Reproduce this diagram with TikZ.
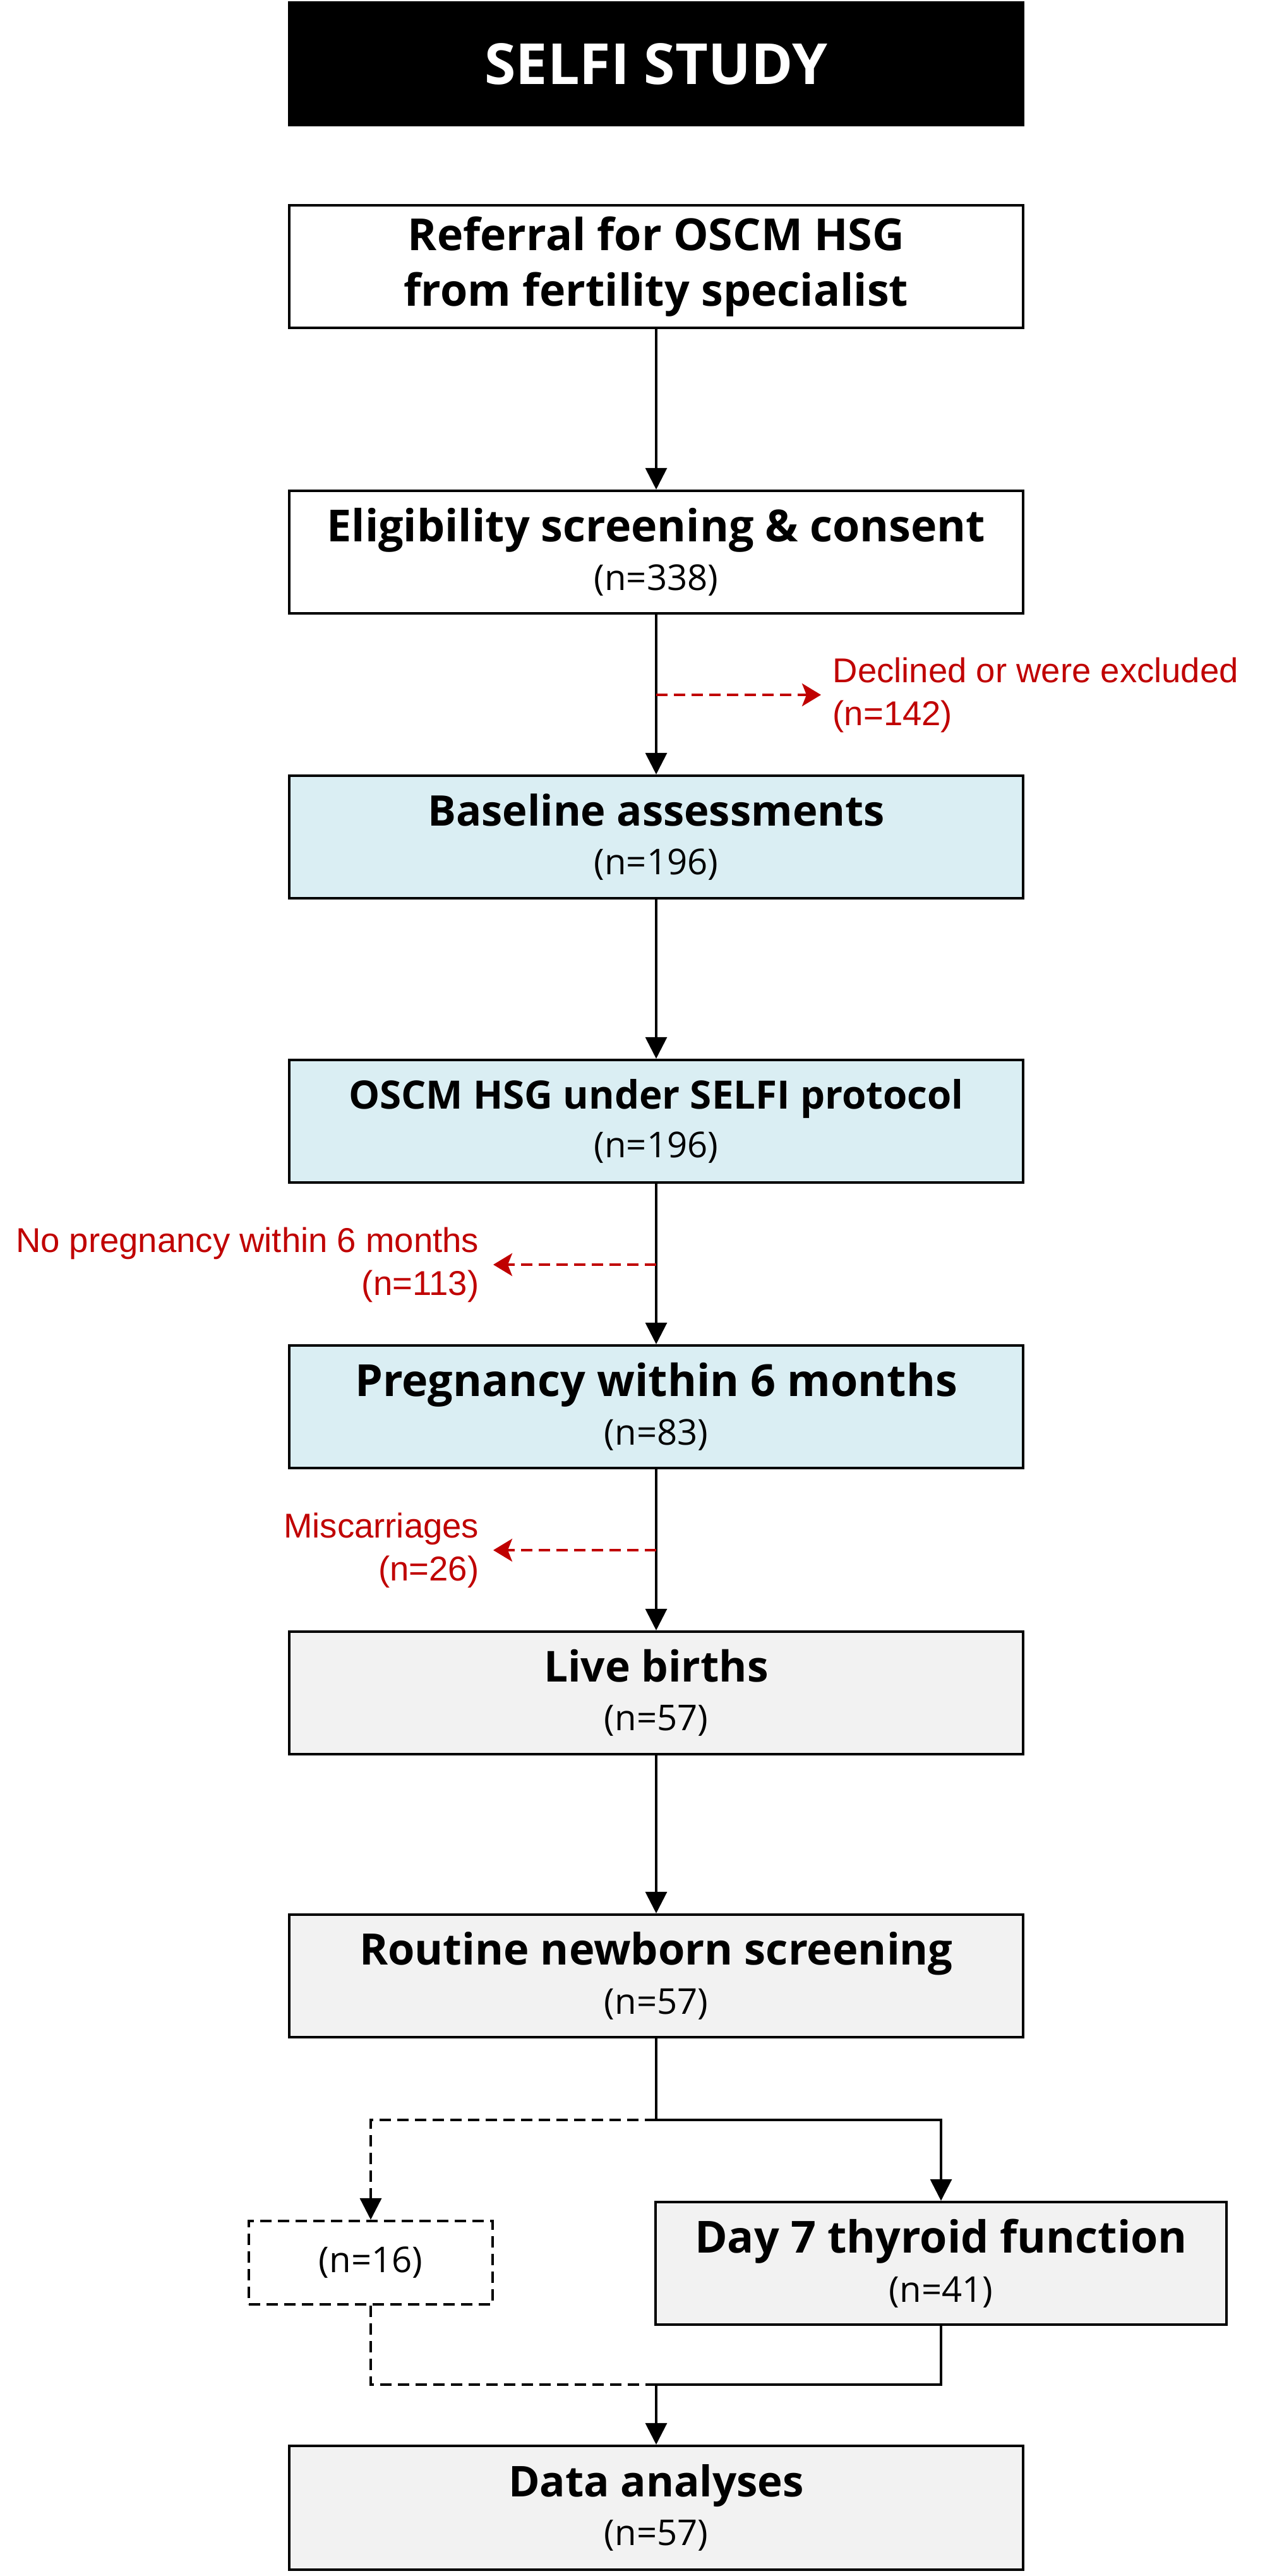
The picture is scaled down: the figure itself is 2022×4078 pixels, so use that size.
\documentclass[tikz,border=0pt]{standalone}
\usepackage{fontspec}
\setmainfont{Open Sans}
\newfontfamily\notefont{Liberation Sans}
\usetikzlibrary{arrows.meta}

\definecolor{boxblue}{HTML}{DAEEF3}
\definecolor{boxgrey}{HTML}{F2F2F2}
\definecolor{notered}{HTML}{C00000}
\newcommand{\hd}[2][19.9pt]{{\fontsize{#1}{22pt}\selectfont\bfseries #2}}

\begin{document}
\begin{tikzpicture}[x=0.01cm,y=-0.01cm,line join=miter]
\tikzset{
    stage/.style={draw=black, line width=1.15pt, minimum width=11.62cm, minimum height=1.94cm,
        align=center, inner sep=0pt, font=\fontsize{16pt}{22pt}\selectfont},
    flow/.style={line width=0.9pt},
    flowarrow/.style={flow, -{Triangle[length=0.34cm,width=0.34cm]}},
    skipline/.style={dash pattern=on 0.18cm off 0.1cm},
    note/.style={text=notered, inner sep=0pt, font=\notefont\fontsize{15.5pt}{19.4pt}\selectfont},
    lossarrow/.style={draw=notered, line width=1.1pt, skipline,
        -{Stealth[length=0.3cm,width=0.36cm,inset=0.07cm]}},
}
\useasboundingbox (0,0) rectangle (2022,4078);

% main column
\node[stage, fill=black, text=white, font=\fontsize{25.5pt}{30pt}\selectfont\bfseries] (title) at (1039,101) {SELFI STUDY};
\node[stage] (referral) at (1039,422) {\hd{Referral for OSCM HSG}\\[3pt]\hd{from fertility specialist}};
\node[stage] (elig) at (1039,874) {\hd{Eligibility screening \& consent}\\(n=338)};
\node[stage, fill=boxblue] (baseline) at (1039,1325) {\hd[19pt]{Baseline assessments}\\(n=196)};
\node[stage, fill=boxblue] (oscm) at (1039,1775) {\hd[17.6pt]{OSCM HSG under SELFI protocol}\\(n=196)};
\node[stage, fill=boxblue] (preg) at (1039,2227) {\hd{Pregnancy within 6 months}\\(n=83)};
\node[stage, fill=boxgrey] (live) at (1039,2680) {\hd[19.2pt]{Live births}\\(n=57)};
\node[stage, fill=boxgrey] (routine) at (1039,3128) {\hd[19.5pt]{Routine newborn screening}\\(n=57)};

% split branches
\node[stage, fill=boxgrey, minimum width=9.03cm] (day7) at (1490,3583) {\hd{Day 7 thyroid function}\\(n=41)};
\node[stage, skipline, minimum width=3.86cm, minimum height=1.32cm] (nosample) at (587,3582) {(n=16)};
\node[stage, fill=boxgrey, minimum height=1.96cm] (data) at (1039,3970) {\hd[19.1pt]{Data analyses}\\(n=57)};

% losses
\node[note, anchor=west, align=left] (declined) at (1318,1100) {Declined or were excluded\\(n=142)};
\node[note, anchor=east, align=right] (nopreg) at (759,2002) {No pregnancy within 6 months\\(n=113)};
\node[note, anchor=east, align=right] (miscarr) at (759,2454) {Miscarriages\\(n=26)};

\draw[flowarrow] (referral) -- (elig);
\draw[flowarrow] (elig) -- (baseline);
\draw[flowarrow] (baseline) -- (oscm);
\draw[flowarrow] (oscm) -- (preg);
\draw[flowarrow] (preg) -- (live);
\draw[flowarrow] (live) -- (routine);

\coordinate (j1) at (elig.south |- declined.west);
\coordinate (j2) at (oscm.south |- nopreg.east);
\coordinate (j3) at (preg.south |- miscarr.east);
\draw[lossarrow] (j1) -- ([xshift=-0.18cm]declined.west);
\draw[lossarrow] (j2) -- ([xshift=0.22cm]nopreg.east);
\draw[lossarrow] (j3) -- ([xshift=0.22cm]miscarr.east);

\coordinate (split) at (1039,3356);
\coordinate (merge) at (1039,3775);
\draw[flow] (routine.south) -- (split);
\draw[flowarrow] (split) -| (day7.north);
\draw[flowarrow, skipline, line width=1pt] (split) -| (nosample.north);
\draw[flow] (day7.south) |- (merge);
\draw[flow, skipline, line width=1pt] (nosample.south) |- (merge);
\draw[flowarrow] (merge) -- (data.north);
\end{tikzpicture}
\end{document}
